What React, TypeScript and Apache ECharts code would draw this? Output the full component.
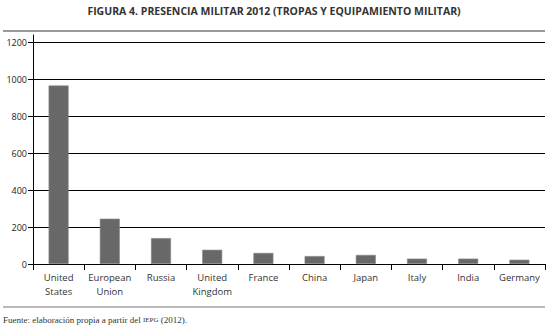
import React, { useEffect, useRef } from "react";
import * as echarts from "echarts";

const categories = [
  "United\nStates",
  "European\nUnion",
  "Russia",
  "United\nKingdom",
  "France",
  "China",
  "Japan",
  "Italy",
  "India",
  "Germany",
];
const values = [965, 245, 140, 77, 60, 43, 49, 29, 29, 23];
const yTicks = [0, 200, 400, 600, 800, 1000, 1200];
const titleText = "FIGURA 4. PRESENCIA MILITAR 2012 (TROPAS Y EQUIPAMIENTO MILITAR)";

export default function App() {
  const ref = useRef<HTMLDivElement>(null);
  useEffect(() => {
    document.body.style.margin = "0";
    const chart = echarts.init(ref.current!, null, { renderer: "svg" });
    chart.setOption({
      animation: false,
      backgroundColor: "#ffffff",
      title: {
        text: titleText,
        left: "center",
        top: 0,
        textStyle: {
          fontFamily: "Open Sans",
          fontWeight: "bold",
          fontSize: 10.5,
          color: "#333",
        },
      },
      grid: { left: 33, right: 3, top: 35, bottom: 64 },
      xAxis: {
        type: "category",
        data: categories,
        axisLine: { show: true, lineStyle: { color: "#000", width: 1 } },
        axisTick: { show: true, length: 6, lineStyle: { color: "#000" } },
        axisLabel: {
          margin: 7,
          fontFamily: "Open Sans",
          fontSize: 9.5,
          color: "#333",
          lineHeight: 13.5,
          interval: 0,
        },
      },
      yAxis: {
        type: "value",
        min: 0,
        max: 1238,
        interval: 200,
        axisLine: { show: true, lineStyle: { color: "#000", width: 1 } },
        axisTick: { show: true, length: 5, customValues: yTicks, lineStyle: { color: "#000" } },
        axisLabel: {
          customValues: yTicks,
          formatter: (v: number) => String(v),
          margin: 6,
          fontFamily: "Open Sans",
          fontSize: 9,
          color: "#222",
        },
        splitLine: { show: true, lineStyle: { color: "#000", width: 1 } },
      },
      series: [
        {
          type: "bar",
          data: values,
          barWidth: 20,
          itemStyle: { color: "#686868", borderColor: "#8a8a8a", borderWidth: 0.6 },
        },
      ],
      graphic: [
        {
          type: "line",
          shape: { x1: 3, y1: 31, x2: 545, y2: 31 },
          style: { stroke: "#777", lineWidth: 1.5 },
        },
        {
          type: "line",
          shape: { x1: 3, y1: 307, x2: 545, y2: 307 },
          style: { stroke: "#777", lineWidth: 1.2 },
        },
        {
          type: "text",
          x: 3,
          y: 320,
          style: {
            text: "Fuente: elaboración propia a partir del {sc|IEPG} (2012).",
            rich: { sc: { fontSize: 7, fontFamily: "Liberation Serif", fill: "#333" } },
            fontFamily: "Liberation Serif",
            fontSize: 9,
            fill: "#333",
            verticalAlign: "middle",
          },
        },
      ],
    });
    return () => chart.dispose();
  }, []);
  return <div ref={ref} style={{ width: 548, height: 328 }} />;
}
